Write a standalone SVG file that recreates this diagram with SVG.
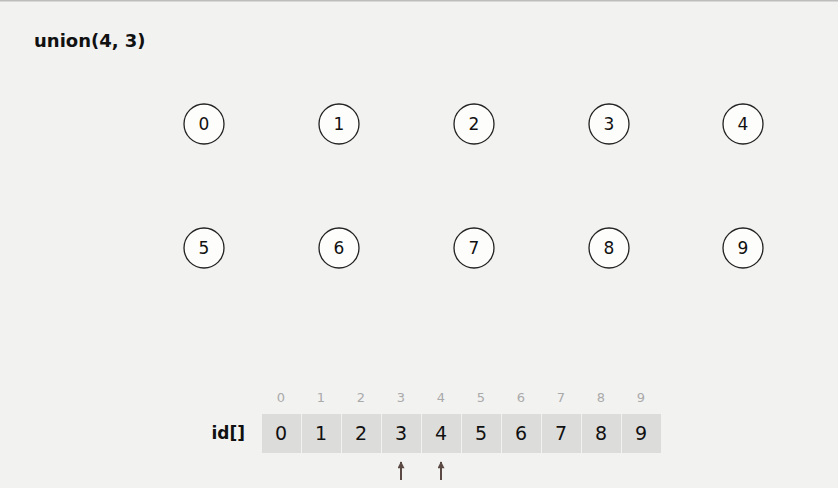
<svg xmlns="http://www.w3.org/2000/svg" width="838" height="488" viewBox="0 0 838 488">
<defs>
<style>
.bg{fill:#f2f2f1}
.node circle{fill:#fdfdfc;stroke:#222;stroke-width:1.3}
.node text{font-family:"DejaVu Sans",sans-serif;font-size:17px;fill:#111;text-anchor:middle;dominant-baseline:central}
.cell{fill:#dcdcdb}
.val{font-family:"DejaVu Sans",sans-serif;font-size:19px;fill:#111;text-anchor:middle;dominant-baseline:central}
.idx{font-family:"DejaVu Sans",sans-serif;font-size:13px;fill:#aaa;text-anchor:middle;dominant-baseline:central}
.arrow{stroke:#5b4a44;stroke-width:2;fill:none}
</style>
<marker id="ah" viewBox="0 0 10 10" refX="9" refY="5" markerWidth="8" markerHeight="7" orient="auto" markerUnits="userSpaceOnUse">
<path d="M0,0 L10,5 L0,10 Z" fill="#5b4a44"/>
</marker>
</defs>
<rect class="bg" x="0" y="0" width="838" height="488"/>
<rect x="0" y="0" width="838" height="1.5" fill="#bdbdbd"/>
<text x="34" y="47" font-family="DejaVu Sans,sans-serif" font-weight="bold" font-size="18" fill="#111">union(4, 3)</text>
<g id="node0" class="node"><circle cx="204" cy="124" r="20"/><text x="204" y="124">0</text></g>
<g id="node1" class="node"><circle cx="339" cy="124" r="20"/><text x="339" y="124">1</text></g>
<g id="node2" class="node"><circle cx="474" cy="124" r="20"/><text x="474" y="124">2</text></g>
<g id="node3" class="node"><circle cx="609" cy="124" r="20"/><text x="609" y="124">3</text></g>
<g id="node4" class="node"><circle cx="743" cy="124" r="20"/><text x="743" y="124">4</text></g>
<g id="node5" class="node"><circle cx="204" cy="248" r="20"/><text x="204" y="248">5</text></g>
<g id="node6" class="node"><circle cx="339" cy="248" r="20"/><text x="339" y="248">6</text></g>
<g id="node7" class="node"><circle cx="474" cy="248" r="20"/><text x="474" y="248">7</text></g>
<g id="node8" class="node"><circle cx="609" cy="248" r="20"/><text x="609" y="248">8</text></g>
<g id="node9" class="node"><circle cx="743" cy="248" r="20"/><text x="743" y="248">9</text></g>
<g id="array">
<text x="245" y="433" font-family="DejaVu Sans,sans-serif" font-weight="bold" font-size="17" fill="#111" text-anchor="end" dominant-baseline="central">id[]</text>
<rect class="cell" x="262" y="414" width="39" height="39"/>
<rect class="cell" x="302" y="414" width="39" height="39"/>
<rect class="cell" x="342" y="414" width="39" height="39"/>
<rect class="cell" x="382" y="414" width="39" height="39"/>
<rect class="cell" x="422" y="414" width="39" height="39"/>
<rect class="cell" x="462" y="414" width="39" height="39"/>
<rect class="cell" x="502" y="414" width="39" height="39"/>
<rect class="cell" x="542" y="414" width="39" height="39"/>
<rect class="cell" x="582" y="414" width="39" height="39"/>
<rect class="cell" x="622" y="414" width="39" height="39"/>
<text class="val" x="281" y="433">0</text>
<text class="val" x="321" y="433">1</text>
<text class="val" x="361" y="433">2</text>
<text class="val" x="401" y="433">3</text>
<text class="val" x="441" y="433">4</text>
<text class="val" x="481" y="433">5</text>
<text class="val" x="521" y="433">6</text>
<text class="val" x="561" y="433">7</text>
<text class="val" x="601" y="433">8</text>
<text class="val" x="641" y="433">9</text>
<text class="idx" x="281" y="397">0</text>
<text class="idx" x="321" y="397">1</text>
<text class="idx" x="361" y="397">2</text>
<text class="idx" x="401" y="397">3</text>
<text class="idx" x="441" y="397">4</text>
<text class="idx" x="481" y="397">5</text>
<text class="idx" x="521" y="397">6</text>
<text class="idx" x="561" y="397">7</text>
<text class="idx" x="601" y="397">8</text>
<text class="idx" x="641" y="397">9</text>
</g>
<g id="connectors">
<line class="arrow" x1="401" y1="480" x2="401" y2="462" marker-end="url(#ah)"/>
<line class="arrow" x1="441" y1="480" x2="441" y2="462" marker-end="url(#ah)"/>
</g>
</svg>
